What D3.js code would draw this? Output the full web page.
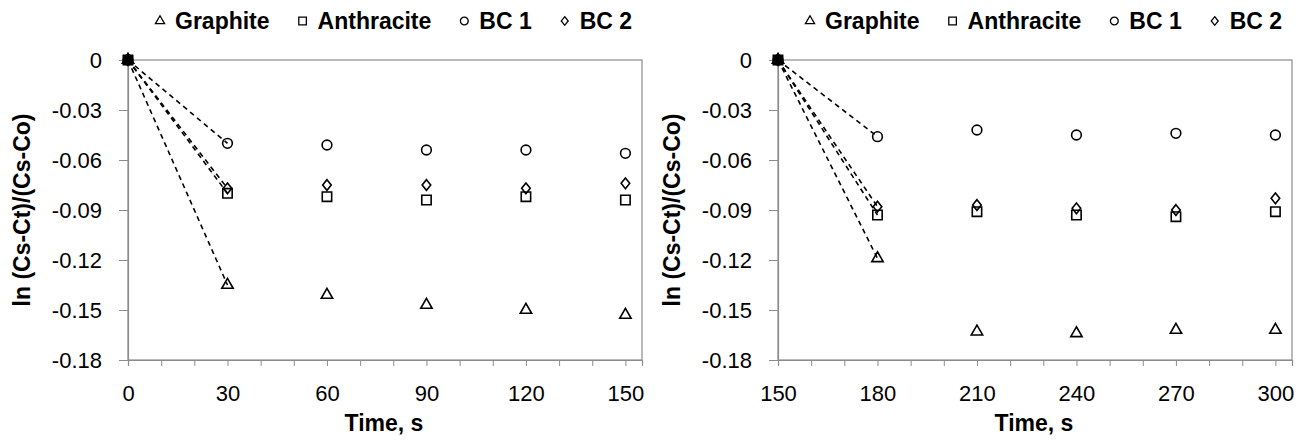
<!DOCTYPE html>
<html>
<head>
<meta charset="utf-8">
<script src="https://d3js.org/d3.v7.min.js"></script>
<style>
  body { margin: 0; background: #fff; }
  text { font-family: "Liberation Sans", Arial, sans-serif; }
</style>
</head>
<body>
<script>
// series names (legend order)
var seriesNames = ["Graphite", "Anthracite", "BC 1", "BC 2"];

// left panel: 0 - 150 s
var timeA = [0, 30, 60, 90, 120, 150];
var graphiteA = [0, -0.135, -0.141, -0.147, -0.150, -0.153];
var anthraciteA = [0, -0.080, -0.082, -0.084, -0.082, -0.084];
var bc1A = [0, -0.050, -0.051, -0.054, -0.054, -0.056];
var bc2A = [0, -0.077, -0.075, -0.075, -0.077, -0.074];

// right panel: 150 - 300 s
var timeB = [150, 180, 210, 240, 270, 300];
var graphiteB = [0, -0.119, -0.163, -0.164, -0.162, -0.162];
var anthraciteB = [0, -0.093, -0.091, -0.093, -0.094, -0.091];
var bc1B = [0, -0.046, -0.042, -0.045, -0.044, -0.045];
var bc2B = [0, -0.088, -0.087, -0.089, -0.090, -0.083];

// axis ticks
var yTicks = [0, -0.03, -0.06, -0.09, -0.12, -0.15, -0.18];
var xLabelsA = [0, 30, 60, 90, 120, 150];
var xLabelsB = [150, 180, 210, 240, 270, 300];

var yTitle = "ln (Cs-Ct)/(Cs-Co)";
var xTitle = "Time, s";

var W = 1309, H = 445;
var grey = "#8c8c8c";

var svg = d3.select("body").append("svg")
    .attr("width", W)
    .attr("height", H);

// diamond a bit wider than d3's default one
var diamond = {
  draw: function(ctx, size) {
    var h = Math.sqrt(size) * 0.6, w = h * 0.8;
    ctx.moveTo(0, -h); ctx.lineTo(w, 0); ctx.lineTo(0, h); ctx.lineTo(-w, 0); ctx.closePath();
  }
};
var shapes = [d3.symbolTriangle, d3.symbolSquare, d3.symbolCircle, diamond];
var sizes = [56, 88, 74, 80];

function drawPanel(left, time, series, xLabels) {
  var x0 = xLabels[0];
  var g = svg.append("g").attr("transform", "translate(" + left + ",0)");
  var pw = 514, top = 60, bottom = 360;

  var x = d3.scaleLinear().domain([x0, x0 + 155]).range([0, pw]);
  var y = d3.scaleLinear().domain([-0.18, 0]).range([bottom, top]);

  // plot border
  g.append("rect")
      .attr("x", 0).attr("y", top)
      .attr("width", pw).attr("height", bottom - top)
      .attr("fill", "none").attr("stroke", grey).attr("stroke-width", 1.2);

  // y axis
  var ya = g.append("g")
      .call(d3.axisLeft(y).tickValues(yTicks).tickSize(9).tickPadding(17)
        .tickFormat(function(d) { return d === 0 ? "0" : d.toFixed(2); }));
  ya.select(".domain").attr("stroke", grey).attr("stroke-width", 1.2);
  ya.selectAll(".tick line").attr("stroke", grey);
  ya.selectAll(".tick text").attr("font-size", 22).attr("fill", "#000");

  // x axis: minor ticks every 10 s, labels every 30 s
  var xa = g.append("g")
      .attr("transform", "translate(0," + bottom + ")")
      .call(d3.axisBottom(x).tickValues(d3.range(x0, x0 + 151, 10)).tickSize(6).tickPadding(19)
        .tickFormat(function(d) { return xLabels.indexOf(d) >= 0 ? d : ""; }));
  xa.select(".domain").attr("stroke", grey).attr("stroke-width", 1.2);
  xa.selectAll(".tick line").attr("stroke", grey);
  xa.selectAll(".tick text").attr("font-size", 22).attr("fill", "#000");

  // axis titles
  g.append("text")
      .attr("transform", "translate(-98," + ((top + bottom) / 2) + ") rotate(-90)")
      .attr("text-anchor", "middle")
      .attr("font-size", 23).attr("font-weight", "bold")
      .text(yTitle);
  g.append("text")
      .attr("x", 256).attr("y", 431)
      .attr("text-anchor", "middle")
      .attr("font-size", 23).attr("font-weight", "bold")
      .text(xTitle);

  // dashed lines from origin to first measured point
  var line = d3.line().x(function(d) { return x(d[0]); }).y(function(d) { return y(d[1]); });
  series.forEach(function(vals) {
    g.append("path")
        .attr("d", line([[time[0], vals[0]], [time[1], vals[1]]]))
        .attr("fill", "none").attr("stroke", "#000")
        .attr("stroke-width", 1.6).attr("stroke-dasharray", "5,4");
  });

  // markers
  series.forEach(function(vals, i) {
    g.selectAll(null)
        .data(vals.map(function(v, j) { return [time[j], v, j]; }))
        .enter().append("path")
        .attr("transform", function(d) { return "translate(" + x(d[0]) + "," + y(d[1]) + ")"; })
        .attr("d", d3.symbol().type(shapes[i]).size(sizes[i]))
        .attr("fill", function(d) { return d[2] === 0 ? "#000" : "none"; })
        .attr("stroke", "#000").attr("stroke-width", 1.6);
  });

  // legend: one row starting just right of the y axis
  var lg = g.append("g").attr("transform", "translate(32,21)");
  var items = lg.selectAll("g").data(seriesNames).enter().append("g");
  items.append("path")
      .attr("d", function(d, i) { return d3.symbol().type(shapes[i]).size(sizes[i] * 0.65)(); })
      .attr("fill", "none").attr("stroke", "#000").attr("stroke-width", 1.3);
  items.append("text")
      .attr("x", 15).attr("dy", "0.36em")
      .attr("font-size", 23).attr("font-weight", "bold")
      .text(function(d) { return d; });
  var pos = 0, gap = 33;
  items.attr("transform", function(d, i) {
    var p = pos;
    pos += 15 + this.querySelector("text").getComputedTextLength() + gap;
    return "translate(" + p + ",0)";
  });
}

drawPanel(128, timeA, [graphiteA, anthraciteA, bc1A, bc2A], xLabelsA);
drawPanel(778, timeB, [graphiteB, anthraciteB, bc1B, bc2B], xLabelsB);
</script>
</body>
</html>
